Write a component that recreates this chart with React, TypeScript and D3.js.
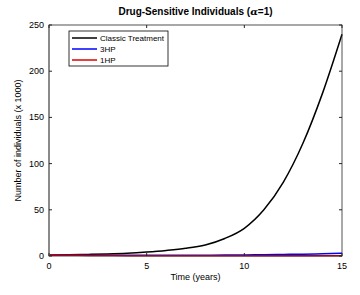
import React from "react";
import * as d3 from "d3";

const years = [0, 1, 2, 3, 4, 5, 6, 7, 8, 9, 10, 11, 12, 13, 14, 15];
const classic = [1.0, 1.3, 1.7, 2.2, 3.0, 4.3, 6, 8.3, 12, 19, 30, 50, 80, 122, 176, 240];
const hp3 = [1.0, 0.9, 0.8, 0.75, 0.72, 0.72, 0.75, 0.8, 0.9, 1.0, 1.2, 1.4, 1.7, 2.0, 2.4, 2.9];
const hp1 = [1.0, 0.8, 0.6, 0.5, 0.4, 0.35, 0.3, 0.3, 0.3, 0.3, 0.3, 0.3, 0.3, 0.3, 0.3, 0.3];
const xTicks = [0, 5, 10, 15];
const yTicks = [0, 50, 100, 150, 200, 250];
const seriesNames = ["Classic Treatment", "3HP", "1HP"];
const seriesColors = ["#000000", "#0000ff", "#e00000"];

const W = 360;
const H = 295;
const m = { left: 49, right: 18, top: 25, bottom: 39 };
const font = "'Liberation Sans', Arial, sans-serif";

export default function App() {
  const x = d3.scaleLinear().domain([0, 15]).range([m.left, W - m.right]);
  const y = d3.scaleLinear().domain([0, 250]).range([H - m.bottom, m.top]);
  const line = d3
    .line<number>()
    .x((_, i) => x(years[i]))
    .y((d) => y(d))
    .curve(d3.curveMonotoneX);
  const all = [classic, hp3, hp1];
  const x0 = x(0), x1 = x(15), y0 = y(0), y1 = y(250);

  return (
    <svg width={W} height={H} style={{ position: "absolute", left: 0, top: 0 }}>
      <rect width={W} height={H} fill="#fff" />
      <text x={(x0 + x1) / 2} y={15} textAnchor="middle" fontFamily={font} fontSize={10} fontWeight="bold">
        Drug-Sensitive Individuals (<tspan fontFamily="'DejaVu Serif', serif" fontStyle="italic">α</tspan>=1)
      </text>
      {/* data */}
      {all.map((s, i) => (
        <path key={i} d={line(s) || ""} fill="none" stroke={seriesColors[i]} strokeWidth={1.5} />
      ))}
      {/* box */}
      <rect x={x0} y={y1} width={x1 - x0} height={y0 - y1} fill="none" stroke="#262626" strokeWidth={0.8} />
      <line x1={x0} x2={x0} y1={y1} y2={y0} stroke="#808080" strokeWidth={1.5} />
      {xTicks.map((t) => (
        <g key={"x" + t}>
          <line x1={x(t)} x2={x(t)} y1={y0} y2={y0 - 3} stroke="#262626" />
          <line x1={x(t)} x2={x(t)} y1={y1} y2={y1 + 3} stroke="#262626" />
          <text x={x(t)} y={y0 + 13} textAnchor="middle" fontFamily={font} fontSize={9}>
            {t}
          </text>
        </g>
      ))}
      {yTicks.map((t) => (
        <g key={"y" + t}>
          <line x1={x0} x2={x0 + 3} y1={y(t)} y2={y(t)} stroke="#262626" />
          <line x1={x1} x2={x1 - 3} y1={y(t)} y2={y(t)} stroke="#262626" />
          <text x={x0 - 5} y={y(t) + 3} textAnchor="end" fontFamily={font} fontSize={9}>
            {t}
          </text>
        </g>
      ))}
      <text x={(x0 + x1) / 2} y={280} textAnchor="middle" fontFamily={font} fontSize={9}>
        Time (years)
      </text>
      <text
        transform={`translate(21,${(y0 + y1) / 2}) rotate(-90)`}
        textAnchor="middle"
        fontFamily={font}
        fontSize={9}
      >
        Number of individuals (x 1000)
      </text>
      {/* legend */}
      <rect x={69} y={31} width={99} height={35} fill="#fff" stroke="#000" strokeWidth={0.8} />
      {seriesNames.map((n, i) => (
        <g key={n}>
          <line x1={72} x2={97} y1={38 + i * 11} y2={38 + i * 11} stroke={seriesColors[i]} strokeWidth={1.5} />
          <text x={100} y={41 + i * 11} fontFamily={font} fontSize={8}>
            {n}
          </text>
        </g>
      ))}
    </svg>
  );
}
